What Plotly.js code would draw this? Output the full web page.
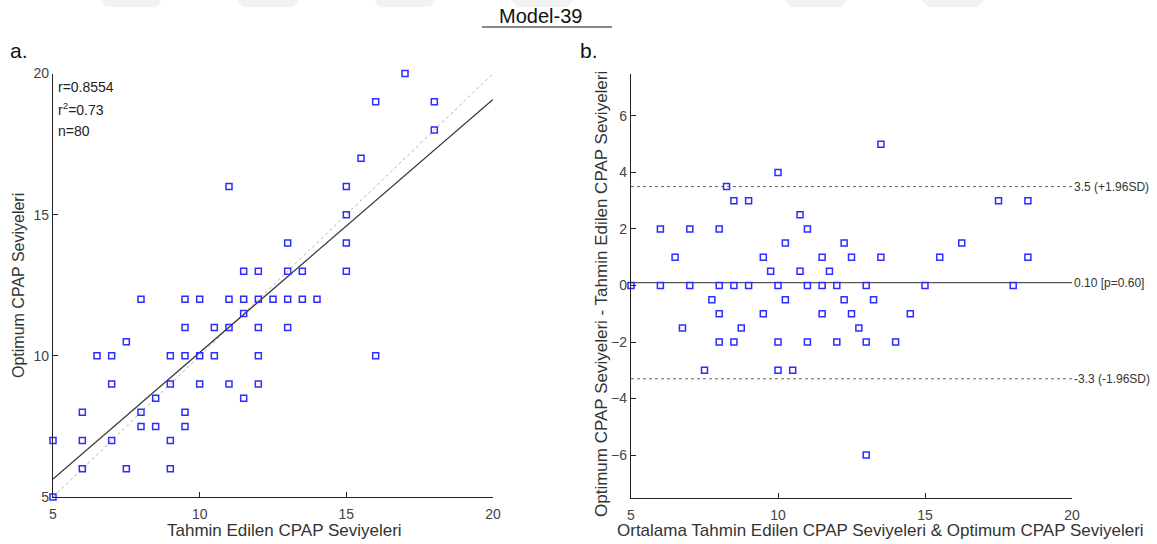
<!DOCTYPE html>
<html>
<head>
<meta charset="utf-8">
<script src="https://cdn.plot.ly/plotly-3.0.1.min.js"></script>
<style>html,body{margin:0;padding:0;background:#fff;}#chart{width:1157px;height:544px;}</style>
</head>
<body>
<div id="chart"></div>
<script>
// ---------- Data: panel a (scatter) ----------
const predictedA = [17,16,18,18,15.5,15,11,15,13,15,11.5,12,13,13.5,15,8,9.5,10,11,11.5,12,12.5,13,13.5,14,11.5,9.5,10.5,11,12,13,7.5,6.5,7,9,9.5,10,10.5,12,16,7,9,10,11,12,8.5,11.5,6,8,9.5,8,8.5,9.5,5,6,7,9,6,7.5,9,5];
const optimumA   = [20,19,19,18,17,16,16,15,14,14,13,13,13,13,13,12,12,12,12,12,12,12,12,12,12,11.5,11,11,11,11,11,10.5,10,10,10,10,10,10,10,10,9,9,9,9,9,8.5,8.5,8,8,8,7.5,7.5,7.5,7,7,7,7,6,6,6,5];
const fitSlope = 0.896;
const fitIntercept = 1.16;
const statLabels = ["r=0.8554", "r<sup>2</sup>=0.73", "n=80"];
const axisRangeA = [5, 20];
const ticksA = [5, 10, 15, 20];

// ---------- Data: panel b (Bland-Altman) ----------
const meanB = [5,6,6,6.5,7,7,7.75,8,8,8,8.25,8.5,8.5,9,9,9.5,9.5,9.75,10,10,10.25,10.25,10.75,10.75,11,11,11.5,11.5,11.5,11.75,12,12.25,12.25,12.5,12.5,13,13.25,13.5,13.5,17.5,18.5,16.25,15.5,18.5,15,18,14.5,6.75,8.75,12.75,8,8.5,10,11,12,13,7.5,10,10.5,13,14];
const diffB = [0,2,0,1,2,0,-0.5,2,0,-1,3.5,3,0,3,0,1,-1,0.5,4,0,1.5,-0.5,2.5,0.5,2,0,1,0,-1,0.5,0,1.5,-0.5,1,-1,0,-0.5,1,5,3,3,1.5,1,1,0,0,-1,-1.5,-1.5,-1.5,-2,-2,-2,-2,-2,-2,-3,-3,-3,-6,-2];
const limitValues = [3.5, 0.10, -3.3];
const limitLabels = ["3.5 (+1.96SD)", "0.10 [p=0.60]", "-3.3 (-1.96SD)"];
const limitDash = ["dot", "solid", "dot"];
const xRangeB = [5, 20];
const yRangeB = [-7.5, 7.5];
const xTicksB = [5, 10, 15, 20];
const yTicksB = [-6, -4, -2, 0, 2, 4, 6];

// ---------- Styling ----------
const W = 1157, H = 544;
const FONT = "Liberation Sans, Arial, Helvetica, sans-serif";
const markerStyle = {symbol: "square-open", size: 6, color: "rgb(45,45,255)", line: {width: 1.5, color: "rgb(45,45,255)"}};
const px = v => v / W;
const py = v => 1 - v / H;

const traces = [];
traces.push({x: axisRangeA, y: axisRangeA, xaxis: "x", yaxis: "y", mode: "lines",
  line: {color: "#b0b0b0", width: 1, dash: "dot"}, hoverinfo: "skip", showlegend: false});
traces.push({x: axisRangeA, y: axisRangeA.map(v => fitIntercept + fitSlope * v), xaxis: "x", yaxis: "y", mode: "lines",
  line: {color: "#333", width: 1.2}, hoverinfo: "skip", showlegend: false});
traces.push({x: predictedA, y: optimumA, xaxis: "x", yaxis: "y", mode: "markers", marker: markerStyle,
  cliponaxis: false, showlegend: false});

limitValues.forEach((v, i) => {
  traces.push({x: xRangeB, y: [v, v], xaxis: "x2", yaxis: "y2", mode: "lines",
    line: {color: i === 1 ? "#555" : "#666", width: i === 1 ? 1.3 : 1, dash: limitDash[i]},
    hoverinfo: "skip", showlegend: false});
});
traces.push({x: meanB, y: diffB, xaxis: "x2", yaxis: "y2", mode: "markers", marker: markerStyle,
  cliponaxis: false, showlegend: false});

const axisCommon = {
  showline: true, linecolor: "#222", linewidth: 1.2, ticks: "inside", ticklen: 5, tickwidth: 1,
  tickcolor: "#222", showgrid: false, zeroline: false, mirror: false, fixedrange: true,
  tickfont: {family: FONT, size: 14, color: "#444"}, tickmode: "array"
};

function ann(text, x, y, opts) {
  return Object.assign({text: text, x: px(x), y: py(y), xref: "paper", yref: "paper",
    xanchor: "center", yanchor: "middle", showarrow: false}, opts);
}

const annotations = [
  ann("Model-39", 540, 16, {font: {family: FONT, size: 20, color: "#111"}}),
  ann("a.", 8, 50, {xanchor: "left", font: {family: FONT, size: 21, color: "#111"}}),
  ann("b.", 578, 50, {xanchor: "left", font: {family: FONT, size: 21, color: "#111"}}),
  ann("Tahmin Edilen CPAP Seviyeleri", 284, 530, {font: {family: FONT, size: 17, color: "#333"}}),
  ann("Optimum CPAP Seviyeleri", 18, 286, {textangle: -90, font: {family: FONT, size: 16, color: "#333"}}),
  ann("Ortalama Tahmin Edilen CPAP Seviyeleri & Optimum CPAP Seviyeleri", 881, 530, {font: {family: FONT, size: 17, color: "#333"}}),
  ann("Optimum CPAP Seviyeleri - Tahmin Edilen CPAP Seviyeleri", 601, 294, {textangle: -90, font: {family: FONT, size: 17, color: "#333"}})
];
statLabels.forEach((t, i) => {
  annotations.push(ann(t, 56, 87 + i * 22, {xanchor: "left", font: {family: FONT, size: 14, color: "#222"}}));
});
limitValues.forEach((v, i) => {
  annotations.push({text: limitLabels[i], x: xRangeB[1], y: v, xref: "x2", yref: "y2", xanchor: "left", yanchor: "middle",
    showarrow: false, font: {family: FONT, size: 12, color: "#333"}});
});

const shapes = [
  {type: "line", xref: "paper", yref: "paper", x0: px(482), x1: px(612), y0: py(27), y1: py(27), line: {color: "#111", width: 1.2}}
];
[100, 237, 374, 511, 785, 922].forEach(s => {
  shapes.push({type: "path", xref: "paper", yref: "paper",
    path: `M ${px(s)} ${py(0)} L ${px(s + 62)} ${py(0)} L ${px(s + 56)} ${py(7)} L ${px(s + 6)} ${py(7)} Z`,
    fillcolor: "#f2f2f2", line: {width: 0}, layer: "below"});
});

const layout = {
  width: W, height: H, margin: {l: 0, r: 0, t: 0, b: 0}, paper_bgcolor: "#fff", plot_bgcolor: "#fff",
  showlegend: false, font: {family: FONT},
  xaxis: Object.assign({}, axisCommon, {domain: [px(53), px(493)], range: axisRangeA, tickvals: ticksA, ticklabelstandoff: 4, anchor: "y"}),
  yaxis: Object.assign({}, axisCommon, {domain: [py(497), py(73.5)], range: axisRangeA, tickvals: ticksA, anchor: "x"}),
  xaxis2: Object.assign({}, axisCommon, {domain: [px(631), px(1072)], range: xRangeB, tickvals: xTicksB, ticklabelstandoff: 4, anchor: "y2"}),
  yaxis2: Object.assign({}, axisCommon, {domain: [py(497.5), py(73.5)], range: yRangeB, tickvals: yTicksB, anchor: "x2"}),
  annotations: annotations, shapes: shapes
};

Plotly.newPlot("chart", traces, layout, {displayModeBar: false, staticPlot: true});
</script>
</body>
</html>
